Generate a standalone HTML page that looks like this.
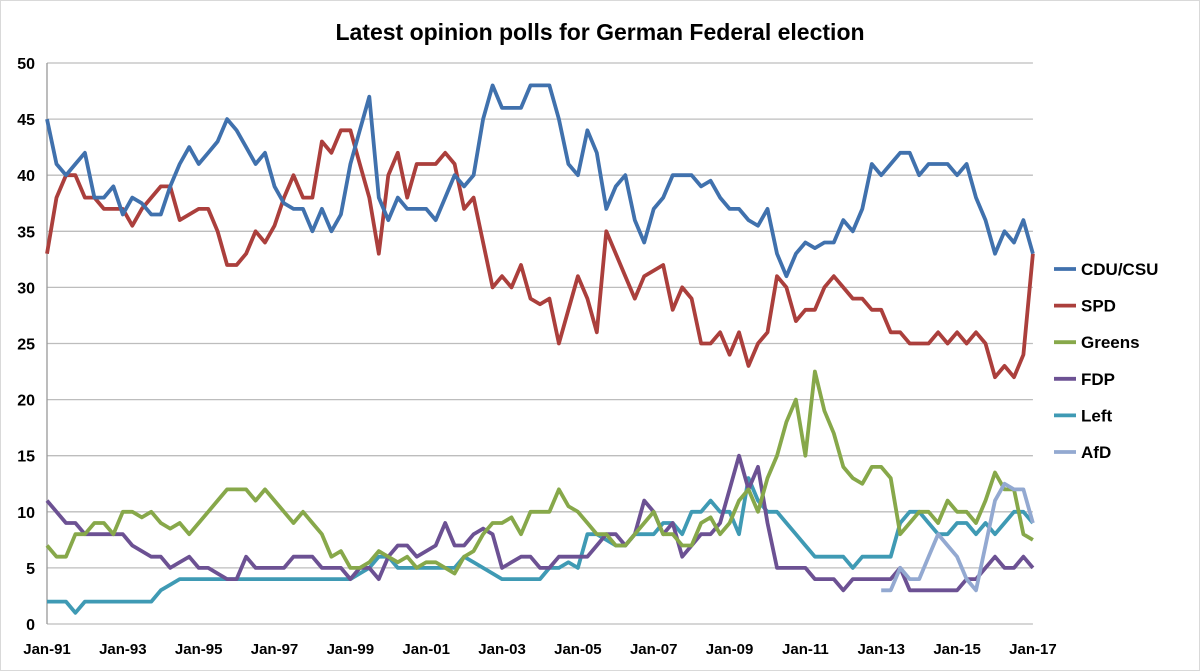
<!DOCTYPE html>
<html><head><meta charset="utf-8"><style>
html,body{margin:0;padding:0;background:#fff}
svg{display:block}
text{font-family:"Liberation Sans",sans-serif;font-weight:bold;fill:#000}
</style></head><body>
<svg id="chart" width="1200" height="671" viewBox="0 0 1200 671">
<rect x="0.5" y="0.5" width="1199" height="670" fill="#fff" stroke="#d9d9d9"/>
<text x="600" y="40" text-anchor="middle" font-size="23">Latest opinion polls for German Federal election</text>
<g id="grid"></g>
<g id="yticks"></g>
<g id="xticks"></g>
<g id="series"></g>
<g id="legend"></g>
</svg>
<script>
const startYear = 1991;
const step = 0.25;
const yTicks = [0,5,10,15,20,25,30,35,40,45,50];
const xTickLabels = ["Jan-91","Jan-93","Jan-95","Jan-97","Jan-99","Jan-01","Jan-03","Jan-05","Jan-07","Jan-09","Jan-11","Jan-13","Jan-15","Jan-17"];
const xTickYears = [1991,1993,1995,1997,1999,2001,2003,2005,2007,2009,2011,2013,2015,2017];
const seriesNames = ["CDU/CSU","SPD","Greens","FDP","Left","AfD"];
const cdu = [45,41,40,41, 42,38,38,39, 36.5,38,37.5,36.5, 36.5,39,41,42.5, 41,42,43,45, 44,42.5,41,42, 39,37.5,37,37, 35,37,35,36.5, 41,44,47,38, 36,38,37,37, 37,36,38,40, 39,40,45,48, 46,46,46,48, 48,48,45,41, 40,44,42,37, 39,40,36,34, 37,38,40,40, 40,39,39.5,38, 37,37,36,35.5, 37,33,31,33, 34,33.5,34,34, 36,35,37,41, 40,41,42,42, 40,41,41,41, 40,41,38,36, 33,35,34,36, 33];
const spd = [33,38,40,40, 38,38,37,37, 37,35.5,37,38, 39,39,36,36.5, 37,37,35,32, 32,33,35,34, 35.5,38,40,38, 38,43,42,44, 44,41,38,33, 40,42,38,41, 41,41,42,41, 37,38,34,30, 31,30,32,29, 28.5,29,25,28, 31,29,26,35, 33,31,29,31, 31.5,32,28,30, 29,25,25,26, 24,26,23,25, 26,31,30,27, 28,28,30,31, 30,29,29,28, 28,26,26,25, 25,25,26,25, 26,25,26,25, 22,23,22,24, 33];
const greens = [7,6,6,8, 8,9,9,8, 10,10,9.5,10, 9,8.5,9,8, 9,10,11,12, 12,12,11,12, 11,10,9,10, 9,8,6,6.5, 5,5,5.5,6.5, 6,5.5,6,5, 5.5,5.5,5,4.5, 6,6.5,8,9, 9,9.5,8,10, 10,10,12,10.5, 10,9,8,8, 7,7,8,9, 10,8,8,7, 7,9,9.5,8, 9,11,12,10, 13,15,18,20, 15,22.5,19,17, 14,13,12.5,14, 14,13,8,9, 10,10,9,11, 10,10,9,11, 13.5,12,12,8, 7.5];
const fdp = [11,10,9,9, 8,8,8,8, 8,7,6.5,6, 6,5,5.5,6, 5,5,4.5,4, 4,6,5,5, 5,5,6,6, 6,5,5,5, 4,5,5,4, 6,7,7,6, 6.5,7,9,7, 7,8,8.5,8, 5,5.5,6,6, 5,5,6,6, 6,6,7,8, 8,7,8,11, 10,8,9,6, 7,8,8,9, 12,15,12,14, 9,5,5,5, 5,4,4,4, 3,4,4,4, 4,4,5,3, 3,3,3,3, 3,4,4,5, 6,5,5,6, 5];
const left = [2,2,2,1, 2,2,2,2, 2,2,2,2, 3,3.5,4,4, 4,4,4,4, 4,4,4,4, 4,4,4,4, 4,4,4,4, 4,4.5,5,6, 6,5,5,5, 5,5,5,5, 6,5.5,5,4.5, 4,4,4,4, 4,5,5,5.5, 5,8,8,7.5, 7,7,8,8, 8,9,9,8, 10,10,11,10, 10,8,13,11, 10,10,9,8, 7,6,6,6, 6,5,6,6, 6,6,9,10, 10,9,8,8, 9,9,8,9, 8,9,10,10, 9];
const afdStartYear = 2013;
const afd = [3,3,5,4, 4,6,8,7, 6,4,3,7, 11,12.5,12,12, 9];

const colors = ["#4071ad","#ab3f3c","#87a84a","#6c5193","#3f9ab4","#93a9d1"];
const X0 = 47, PX_PER_YEAR = 37.92, Y0 = 624, PX_PER_UNIT = 11.22;
function xScale(year){ return X0 + (year - startYear) * PX_PER_YEAR; }
function yScale(v){ return Y0 - v * PX_PER_UNIT; }
const NS = "http://www.w3.org/2000/svg";
const grid = document.getElementById('grid');
const yt = document.getElementById('yticks');
const xt = document.getElementById('xticks');
const ser = document.getElementById('series');
const leg = document.getElementById('legend');
const xEnd = xScale(2017);

yTicks.forEach(function(v){
  const l = document.createElementNS(NS,'line');
  l.setAttribute('x1', X0); l.setAttribute('x2', xEnd);
  l.setAttribute('y1', yScale(v)); l.setAttribute('y2', yScale(v));
  l.setAttribute('stroke', '#bdbdbd'); l.setAttribute('stroke-width', '1.3');
  
  
  grid.appendChild(l);
  const t = document.createElementNS(NS,'text');
  t.setAttribute('x', 35); t.setAttribute('y', yScale(v) + 6);
  t.setAttribute('text-anchor', 'end'); t.setAttribute('font-size', '16');
  t.textContent = v;
  
  
  yt.appendChild(t);
});
const ax = document.createElementNS(NS,'line');
ax.setAttribute('x1', X0); ax.setAttribute('x2', X0);
ax.setAttribute('y1', yScale(50)); ax.setAttribute('y2', Y0);
ax.setAttribute('stroke', '#999'); ax.setAttribute('stroke-width', '1.3');


grid.appendChild(ax);

xTickLabels.forEach(function(lab, i){
  const t = document.createElementNS(NS,'text');
  t.setAttribute('x', xScale(xTickYears[i])); t.setAttribute('y', 654);
  t.setAttribute('text-anchor', 'middle'); t.setAttribute('font-size', '15');
  t.textContent = lab;
  
  
  xt.appendChild(t);
});

function drawLine(vals, y0, color, name){
  let d = '';
  vals.forEach(function(v, i){
    const px = xScale(y0 + i * step), py = yScale(v);
    d += (i ? 'L' : 'M') + px.toFixed(1) + ' ' + py.toFixed(1);
  });
  const p = document.createElementNS(NS,'path');
  p.setAttribute('d', d); p.setAttribute('fill', 'none');
  p.setAttribute('stroke', color); p.setAttribute('stroke-width', '3.8');
  p.setAttribute('stroke-linejoin', 'round');
  
  
  ser.appendChild(p);
}
drawLine(left, startYear, colors[4], 'left');
drawLine(fdp, startYear, colors[3], 'fdp');
drawLine(greens, startYear, colors[2], 'greens');
drawLine(afd, afdStartYear, colors[5], 'afd');
drawLine(spd, startYear, colors[1], 'spd');
drawLine(cdu, startYear, colors[0], 'cdu-csu');

seriesNames.forEach(function(n, i){
  const y = 269 + i * 36.6;
  const g = document.createElementNS(NS,'g');
  
  
  const l = document.createElementNS(NS,'line');
  l.setAttribute('x1', 1054); l.setAttribute('x2', 1076);
  l.setAttribute('y1', y); l.setAttribute('y2', y);
  l.setAttribute('stroke', colors[i]); l.setAttribute('stroke-width', '3.8');
  
  
  const t = document.createElementNS(NS,'text');
  t.setAttribute('x', 1081); t.setAttribute('y', y + 6);
  t.setAttribute('font-size', '17');
  t.textContent = n;
  
  
  g.appendChild(l); g.appendChild(t);
  leg.appendChild(g);
});
</script>
</body></html>
